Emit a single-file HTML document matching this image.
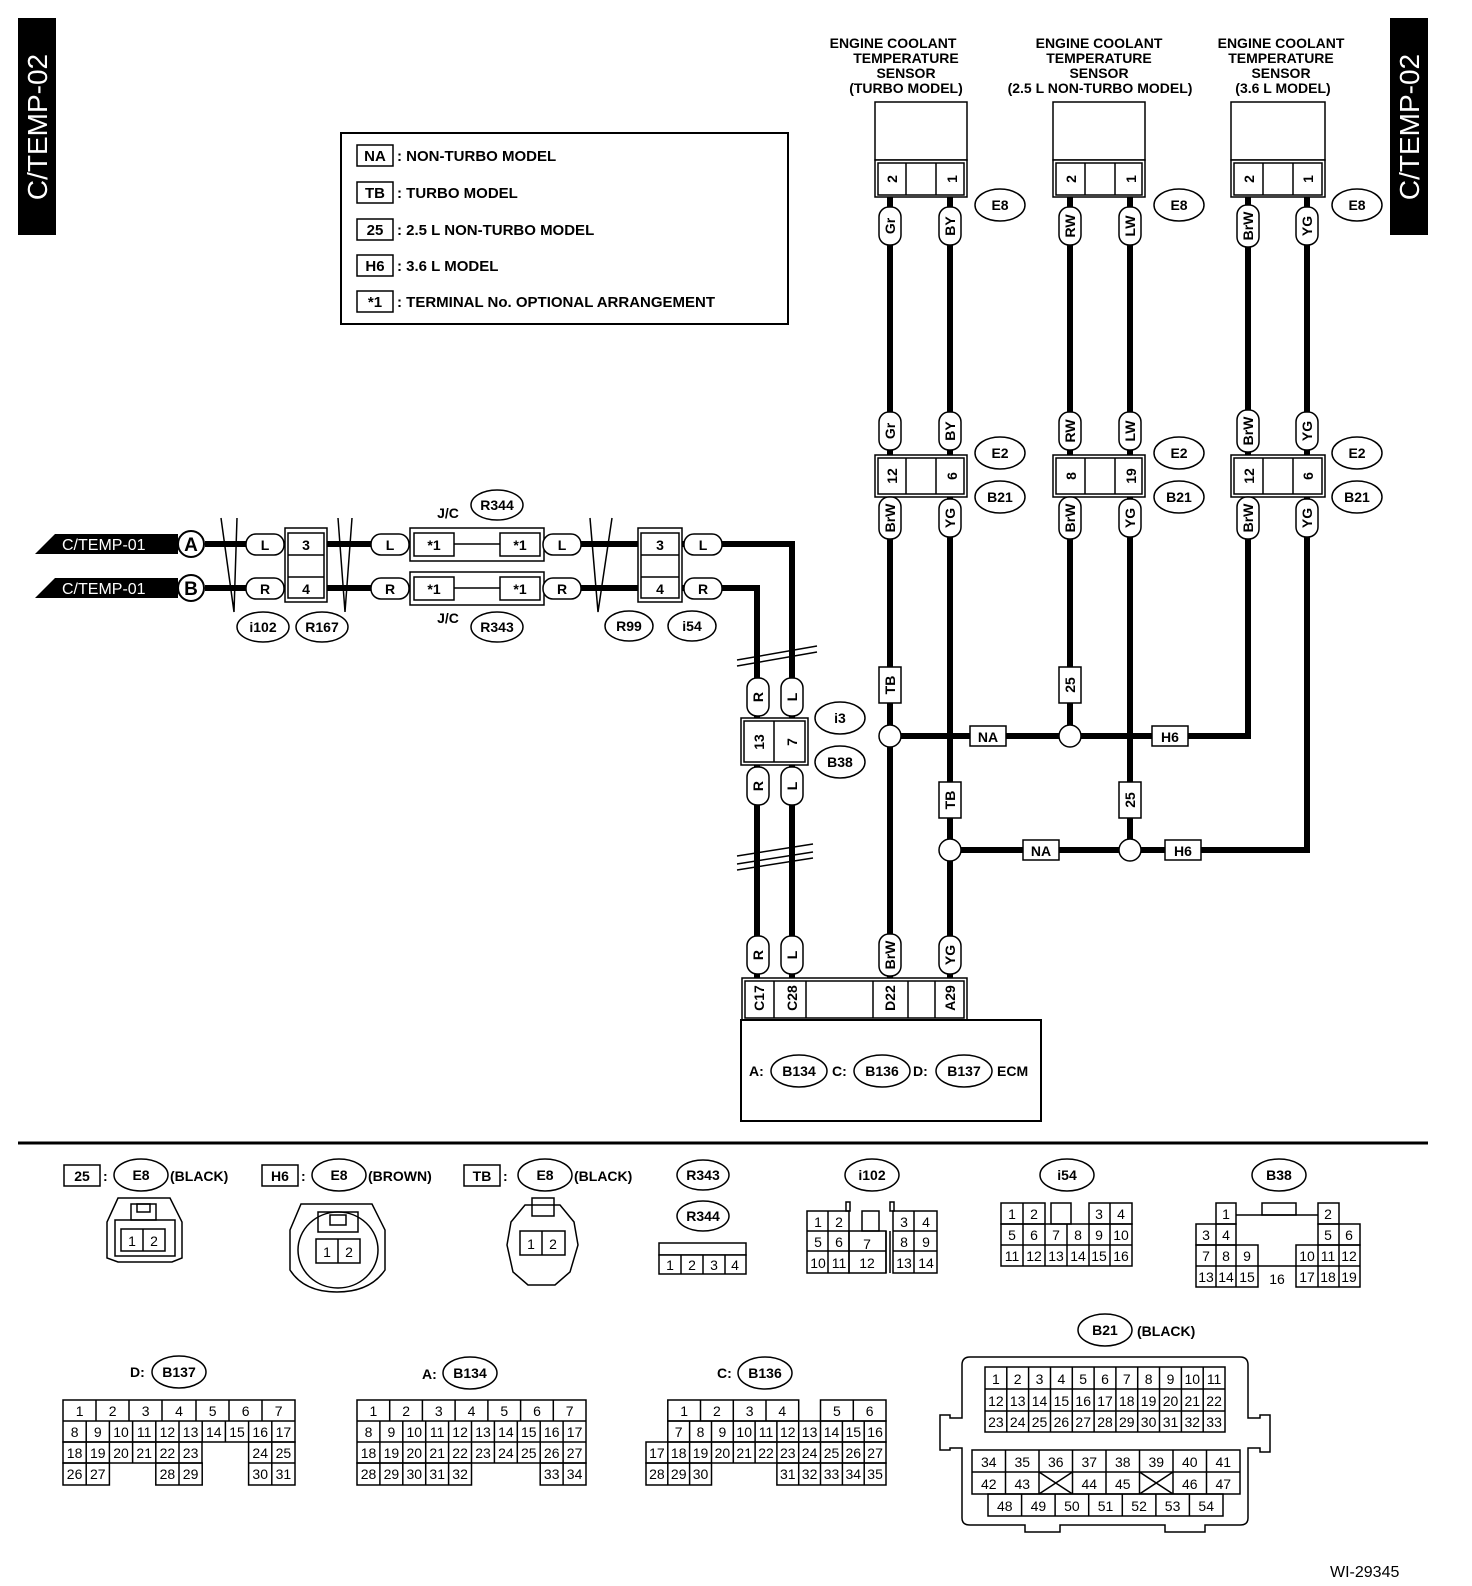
<!DOCTYPE html>
<html><head><meta charset="utf-8"><style>
html,body{margin:0;padding:0;background:#fff}
svg{display:block}
text{font-family:"Liberation Sans",sans-serif;font-weight:bold;fill:#000}
.c{fill:#fff;stroke:#000;stroke-width:1.5}
.t{fill:none;stroke:#000;stroke-width:1.5}
.w{fill:none;stroke:#000;stroke-width:6}
.n{font-weight:normal}
</style></head><body>
<svg width="1472" height="1586" viewBox="0 0 1472 1586" xmlns="http://www.w3.org/2000/svg">
<!-- side labels -->
<rect x="18" y="18" width="38" height="217" fill="#000"/>
<text transform="translate(47,127) rotate(-90)" text-anchor="middle" font-size="28" style="fill:#fff;font-weight:normal">C/TEMP-02</text>
<rect x="1390" y="18" width="38" height="217" fill="#000"/>
<text transform="translate(1419,127) rotate(-90)" text-anchor="middle" font-size="28" style="fill:#fff;font-weight:normal">C/TEMP-02</text>

<!-- legend -->
<rect x="341" y="133" width="447" height="191" class="t" style="stroke-width:2"/>
<g font-size="15">
<rect x="357" y="145" width="36" height="21" class="t"/><text x="375" y="161" text-anchor="middle">NA</text><text x="397" y="161">: NON-TURBO MODEL</text>
<rect x="357" y="182" width="36" height="21" class="t"/><text x="375" y="198" text-anchor="middle">TB</text><text x="397" y="198">: TURBO MODEL</text>
<rect x="357" y="219" width="36" height="21" class="t"/><text x="375" y="235" text-anchor="middle">25</text><text x="397" y="235">: 2.5 L NON-TURBO MODEL</text>
<rect x="357" y="255" width="36" height="21" class="t"/><text x="375" y="271" text-anchor="middle">H6</text><text x="397" y="271">: 3.6 L MODEL</text>
<rect x="357" y="291" width="36" height="21" class="t"/><text x="375" y="307" text-anchor="middle">*1</text><text x="397" y="307">: TERMINAL No. OPTIONAL ARRANGEMENT</text>
</g>

<!-- sensor titles -->
<g font-size="14" text-anchor="middle">
<text x="893" y="48">ENGINE COOLANT</text><text x="906" y="63">TEMPERATURE</text><text x="906" y="78">SENSOR</text><text x="906" y="93">(TURBO MODEL)</text>
<text x="1099" y="48">ENGINE COOLANT</text><text x="1099" y="63">TEMPERATURE</text><text x="1099" y="78">SENSOR</text><text x="1100" y="93">(2.5 L NON-TURBO MODEL)</text>
<text x="1281" y="48">ENGINE COOLANT</text><text x="1281" y="63">TEMPERATURE</text><text x="1281" y="78">SENSOR</text><text x="1283" y="93">(3.6 L MODEL)</text>
</g>

<!-- wires vertical -->
<g class="w">
<path d="M890 197V978"/><path d="M950 197V978"/>
<path d="M1070 197V736"/><path d="M1130 197V850"/>
<path d="M1248 197V736H890"/><path d="M1307 197V850H950"/>
<path d="M205 544H792V978"/><path d="M205 588H757V978"/>
</g>

<!-- sensors -->
<g>
<rect x="875" y="102" width="92" height="58" class="c"/>
<rect x="875" y="160" width="92" height="37" class="c"/><rect x="878" y="163" width="86" height="32" class="c"/>
<path d="M906 163V195M936 163V195" class="t"/>
<text transform="translate(897,179) rotate(-90)" text-anchor="middle" font-size="14">2</text>
<text transform="translate(957,179) rotate(-90)" text-anchor="middle" font-size="14">1</text>
<rect x="1053" y="102" width="92" height="58" class="c"/>
<rect x="1053" y="160" width="92" height="37" class="c"/><rect x="1056" y="163" width="86" height="32" class="c"/>
<path d="M1085 163V195M1115 163V195" class="t"/>
<text transform="translate(1076,179) rotate(-90)" text-anchor="middle" font-size="14">2</text>
<text transform="translate(1136,179) rotate(-90)" text-anchor="middle" font-size="14">1</text>
<rect x="1231" y="102" width="94" height="58" class="c"/>
<rect x="1231" y="160" width="94" height="37" class="c"/><rect x="1234" y="163" width="88" height="32" class="c"/>
<path d="M1263 163V195M1293 163V195" class="t"/>
<text transform="translate(1254,179) rotate(-90)" text-anchor="middle" font-size="14">2</text>
<text transform="translate(1313,179) rotate(-90)" text-anchor="middle" font-size="14">1</text>
</g>

<!-- mid connectors E2/B21 -->
<g>
<rect x="875" y="455" width="92" height="42" class="c"/><rect x="878" y="458" width="86" height="36" class="c"/><path d="M906 458V494M936 458V494" class="t"/>
<text transform="translate(897,476) rotate(-90)" text-anchor="middle" font-size="14">12</text><text transform="translate(957,476) rotate(-90)" text-anchor="middle" font-size="14">6</text>
<rect x="1053" y="455" width="92" height="42" class="c"/><rect x="1056" y="458" width="86" height="36" class="c"/><path d="M1085 458V494M1115 458V494" class="t"/>
<text transform="translate(1076,476) rotate(-90)" text-anchor="middle" font-size="14">8</text><text transform="translate(1136,476) rotate(-90)" text-anchor="middle" font-size="14">19</text>
<rect x="1231" y="455" width="94" height="42" class="c"/><rect x="1234" y="458" width="88" height="36" class="c"/><path d="M1263 458V494M1293 458V494" class="t"/>
<text transform="translate(1254,476) rotate(-90)" text-anchor="middle" font-size="14">12</text><text transform="translate(1313,476) rotate(-90)" text-anchor="middle" font-size="14">6</text>
</g>

<!-- vertical pills -->
<g font-size="14" text-anchor="middle">
<rect x="879" y="207" width="22" height="38" rx="10" class="c"/><text transform="translate(895,226) rotate(-90)">Gr</text>
<rect x="939" y="207" width="22" height="38" rx="10" class="c"/><text transform="translate(955,226) rotate(-90)">BY</text>
<rect x="1059" y="207" width="22" height="38" rx="10" class="c"/><text transform="translate(1075,226) rotate(-90)">RW</text>
<rect x="1119" y="207" width="22" height="38" rx="10" class="c"/><text transform="translate(1135,226) rotate(-90)">LW</text>
<rect x="1237" y="205" width="22" height="42" rx="10" class="c"/><text transform="translate(1253,226) rotate(-90)">BrW</text>
<rect x="1296" y="207" width="22" height="38" rx="10" class="c"/><text transform="translate(1312,226) rotate(-90)">YG</text>

<rect x="879" y="412" width="22" height="38" rx="10" class="c"/><text transform="translate(895,431) rotate(-90)">Gr</text>
<rect x="939" y="412" width="22" height="38" rx="10" class="c"/><text transform="translate(955,431) rotate(-90)">BY</text>
<rect x="1059" y="412" width="22" height="38" rx="10" class="c"/><text transform="translate(1075,431) rotate(-90)">RW</text>
<rect x="1119" y="412" width="22" height="38" rx="10" class="c"/><text transform="translate(1135,431) rotate(-90)">LW</text>
<rect x="1237" y="410" width="22" height="42" rx="10" class="c"/><text transform="translate(1253,431) rotate(-90)">BrW</text>
<rect x="1296" y="412" width="22" height="38" rx="10" class="c"/><text transform="translate(1312,431) rotate(-90)">YG</text>

<rect x="879" y="497" width="22" height="42" rx="10" class="c"/><text transform="translate(895,518) rotate(-90)">BrW</text>
<rect x="939" y="499" width="22" height="38" rx="10" class="c"/><text transform="translate(955,518) rotate(-90)">YG</text>
<rect x="1059" y="497" width="22" height="42" rx="10" class="c"/><text transform="translate(1075,518) rotate(-90)">BrW</text>
<rect x="1119" y="499" width="22" height="38" rx="10" class="c"/><text transform="translate(1135,518) rotate(-90)">YG</text>
<rect x="1237" y="497" width="22" height="42" rx="10" class="c"/><text transform="translate(1253,518) rotate(-90)">BrW</text>
<rect x="1296" y="499" width="22" height="38" rx="10" class="c"/><text transform="translate(1312,518) rotate(-90)">YG</text>

<rect x="879" y="667" width="22" height="36" class="c"/><text transform="translate(895,685) rotate(-90)">TB</text>
<rect x="1059" y="667" width="22" height="36" class="c"/><text transform="translate(1075,685) rotate(-90)">25</text>
<rect x="939" y="782" width="22" height="36" class="c"/><text transform="translate(955,800) rotate(-90)">TB</text>
<rect x="1119" y="782" width="22" height="36" class="c"/><text transform="translate(1135,800) rotate(-90)">25</text>

<rect x="879" y="934" width="22" height="42" rx="10" class="c"/><text transform="translate(895,955) rotate(-90)">BrW</text>
<rect x="939" y="936" width="22" height="38" rx="10" class="c"/><text transform="translate(955,955) rotate(-90)">YG</text>
<rect x="747" y="936" width="22" height="38" rx="10" class="c"/><text transform="translate(763,955) rotate(-90)">R</text>
<rect x="781" y="936" width="22" height="38" rx="10" class="c"/><text transform="translate(797,955) rotate(-90)">L</text>

<rect x="747" y="678" width="22" height="38" rx="10" class="c"/><text transform="translate(763,697) rotate(-90)">R</text>
<rect x="781" y="678" width="22" height="38" rx="10" class="c"/><text transform="translate(797,697) rotate(-90)">L</text>
<rect x="747" y="767" width="22" height="38" rx="10" class="c"/><text transform="translate(763,786) rotate(-90)">R</text>
<rect x="781" y="767" width="22" height="38" rx="10" class="c"/><text transform="translate(797,786) rotate(-90)">L</text>
</g>

<!-- i3/B38 connector -->
<rect x="741" y="718" width="67" height="47" class="c"/><rect x="744" y="721" width="61" height="41" class="c"/><path d="M774 721V762" class="t"/>
<text transform="translate(764,742) rotate(-90)" text-anchor="middle" font-size="14">13</text>
<text transform="translate(797,742) rotate(-90)" text-anchor="middle" font-size="14">7</text>

<!-- nodes & NA/H6 -->
<g>
<circle cx="890" cy="736" r="11" class="c"/><circle cx="1070" cy="736" r="11" class="c"/>
<circle cx="950" cy="850" r="11" class="c"/><circle cx="1130" cy="850" r="11" class="c"/>
<rect x="970" y="726" width="36" height="20" class="c"/><rect x="1152" y="726" width="36" height="20" class="c"/>
<rect x="1023" y="840" width="36" height="20" class="c"/><rect x="1165" y="840" width="36" height="20" class="c"/>
</g>
<g font-size="14" text-anchor="middle">
<text x="988" y="742">NA</text><text x="1170" y="742">H6</text><text x="1041" y="856">NA</text><text x="1183" y="856">H6</text>
</g>

<!-- ellipses right -->
<g font-size="14" text-anchor="middle">
<ellipse cx="1000" cy="205" rx="25" ry="16" class="c"/><text x="1000" y="210">E8</text>
<ellipse cx="1179" cy="205" rx="25" ry="16" class="c"/><text x="1179" y="210">E8</text>
<ellipse cx="1357" cy="205" rx="25" ry="16" class="c"/><text x="1357" y="210">E8</text>
<ellipse cx="1000" cy="453" rx="25" ry="16" class="c"/><text x="1000" y="458">E2</text>
<ellipse cx="1179" cy="453" rx="25" ry="16" class="c"/><text x="1179" y="458">E2</text>
<ellipse cx="1357" cy="453" rx="25" ry="16" class="c"/><text x="1357" y="458">E2</text>
<ellipse cx="1000" cy="497" rx="25" ry="16" class="c"/><text x="1000" y="502">B21</text>
<ellipse cx="1179" cy="497" rx="25" ry="16" class="c"/><text x="1179" y="502">B21</text>
<ellipse cx="1357" cy="497" rx="25" ry="16" class="c"/><text x="1357" y="502">B21</text>
<ellipse cx="840" cy="718" rx="25" ry="16" class="c"/><text x="840" y="723">i3</text>
<ellipse cx="840" cy="762" rx="25" ry="16" class="c"/><text x="840" y="767">B38</text>
</g>

<!-- break marks -->
<g class="t" style="stroke-width:1.5">
<path d="M737 660L817 646M737 666L817 652"/>
<path d="M737 856L813 844M737 864L813 852M737 870L813 858"/>
<path d="M221 518L234 612L237 518"/>
<path d="M338 518L345 612L352 518"/>
<path d="M590 518L598 612L612 518"/>
</g>

<!-- left flags -->
<polygon points="55,534 178,534 178,554 35,554" fill="#000"/>
<polygon points="55,578 178,578 178,598 35,598" fill="#000"/>
<text x="62" y="550" font-size="16" style="fill:#fff;font-weight:normal">C/TEMP-01</text>
<text x="62" y="594" font-size="16" style="fill:#fff;font-weight:normal">C/TEMP-01</text>
<circle cx="191" cy="544" r="13" class="c" style="stroke-width:2"/><text x="191" y="551" font-size="19" text-anchor="middle">A</text>
<circle cx="191" cy="588" r="13" class="c" style="stroke-width:2"/><text x="191" y="595" font-size="19" text-anchor="middle">B</text>

<!-- left connectors -->
<g>
<rect x="285" y="528" width="42" height="74" class="c"/><rect x="288" y="533" width="36" height="65" class="c"/><path d="M288 555H324M288 577H324" class="t"/>
<rect x="638" y="528" width="44" height="74" class="c"/><rect x="641" y="533" width="38" height="65" class="c"/><path d="M641 555H679M641 577H679" class="t"/>
<rect x="410" y="528" width="134" height="33" class="c"/><rect x="414" y="533" width="40" height="23" class="c"/><rect x="500" y="533" width="40" height="23" class="c"/><path d="M454 544H500" class="t"/>
<rect x="410" y="572" width="134" height="33" class="c"/><rect x="414" y="577" width="40" height="23" class="c"/><rect x="500" y="577" width="40" height="23" class="c"/><path d="M454 588H500" class="t"/>
<rect x="246" y="534" width="38" height="21" rx="10" class="c"/><rect x="246" y="578" width="38" height="21" rx="10" class="c"/>
<rect x="371" y="534" width="38" height="21" rx="10" class="c"/><rect x="371" y="578" width="38" height="21" rx="10" class="c"/>
<rect x="543" y="534" width="38" height="21" rx="10" class="c"/><rect x="543" y="578" width="38" height="21" rx="10" class="c"/>
<rect x="684" y="534" width="38" height="21" rx="10" class="c"/><rect x="684" y="578" width="38" height="21" rx="10" class="c"/>
</g>
<g font-size="14" text-anchor="middle">
<text x="265" y="550">L</text><text x="265" y="594">R</text>
<text x="306" y="550">3</text><text x="306" y="594">4</text>
<text x="390" y="550">L</text><text x="390" y="594">R</text>
<text x="434" y="550">*1</text><text x="434" y="594">*1</text>
<text x="520" y="550">*1</text><text x="520" y="594">*1</text>
<text x="562" y="550">L</text><text x="562" y="594">R</text>
<text x="660" y="550">3</text><text x="660" y="594">4</text>
<text x="703" y="550">L</text><text x="703" y="594">R</text>
<text x="448" y="518">J/C</text><text x="448" y="623">J/C</text>
<ellipse cx="263" cy="627" rx="26" ry="15" class="c"/><text x="263" y="632">i102</text>
<ellipse cx="322" cy="627" rx="26" ry="15" class="c"/><text x="322" y="632">R167</text>
<ellipse cx="497" cy="505" rx="26" ry="15" class="c"/><text x="497" y="510">R344</text>
<ellipse cx="497" cy="627" rx="26" ry="15" class="c"/><text x="497" y="632">R343</text>
<ellipse cx="629" cy="626" rx="24" ry="15" class="c"/><text x="629" y="631">R99</text>
<ellipse cx="692" cy="626" rx="24" ry="15" class="c"/><text x="692" y="631">i54</text>
</g>

<!-- ECM -->
<rect x="742" y="978" width="225" height="42" class="c"/><rect x="745" y="981" width="219" height="37" class="c"/>
<path d="M774 981V1018M806 981V1018M873 981V1018M908 981V1018M935 981V1018" class="t"/>
<g font-size="14" text-anchor="middle">
<text transform="translate(764,998) rotate(-90)">C17</text><text transform="translate(797,998) rotate(-90)">C28</text>
<text transform="translate(895,998) rotate(-90)">D22</text><text transform="translate(955,998) rotate(-90)">A29</text>
</g>
<rect x="741" y="1020" width="300" height="101" class="t" style="stroke-width:2"/>
<g font-size="14">
<text x="749" y="1076">A:</text><ellipse cx="799" cy="1071" rx="28" ry="16" class="c"/><text x="799" y="1076" text-anchor="middle">B134</text>
<text x="832" y="1076">C:</text><ellipse cx="882" cy="1071" rx="28" ry="16" class="c"/><text x="882" y="1076" text-anchor="middle">B136</text>
<text x="913" y="1076">D:</text><ellipse cx="964" cy="1071" rx="28" ry="16" class="c"/><text x="964" y="1076" text-anchor="middle">B137</text>
<text x="997" y="1076">ECM</text>
</g>

<!-- separator -->
<path d="M18 1143H1428" stroke="#000" stroke-width="3"/>

<!-- bottom headers -->
<g font-size="14">
<rect x="64" y="1165" width="36" height="21" class="t"/><text x="82" y="1181" text-anchor="middle">25</text><text x="103" y="1181">:</text>
<ellipse cx="141" cy="1175" rx="27" ry="16" class="c"/><text x="141" y="1180" text-anchor="middle">E8</text><text x="170" y="1181">(BLACK)</text>
<rect x="262" y="1165" width="36" height="21" class="t"/><text x="280" y="1181" text-anchor="middle">H6</text><text x="301" y="1181">:</text>
<ellipse cx="339" cy="1175" rx="27" ry="16" class="c"/><text x="339" y="1180" text-anchor="middle">E8</text><text x="368" y="1181">(BROWN)</text>
<rect x="464" y="1165" width="36" height="21" class="t"/><text x="482" y="1181" text-anchor="middle">TB</text><text x="503" y="1181">:</text>
<ellipse cx="545" cy="1175" rx="27" ry="16" class="c"/><text x="545" y="1180" text-anchor="middle">E8</text><text x="574" y="1181">(BLACK)</text>
<ellipse cx="703" cy="1175" rx="26" ry="15" class="c"/><text x="703" y="1180" text-anchor="middle">R343</text>
<ellipse cx="703" cy="1216" rx="26" ry="15" class="c"/><text x="703" y="1221" text-anchor="middle">R344</text>
<ellipse cx="872" cy="1175" rx="27" ry="16" class="c"/><text x="872" y="1180" text-anchor="middle">i102</text>
<ellipse cx="1067" cy="1175" rx="27" ry="16" class="c"/><text x="1067" y="1180" text-anchor="middle">i54</text>
<ellipse cx="1279" cy="1175" rx="27" ry="16" class="c"/><text x="1279" y="1180" text-anchor="middle">B38</text>
<text x="130" y="1377">D:</text><ellipse cx="179" cy="1372" rx="27" ry="16" class="c"/><text x="179" y="1377" text-anchor="middle">B137</text>
<text x="422" y="1379">A:</text><ellipse cx="470" cy="1373" rx="27" ry="16" class="c"/><text x="470" y="1378" text-anchor="middle">B134</text>
<text x="717" y="1378">C:</text><ellipse cx="765" cy="1373" rx="27" ry="16" class="c"/><text x="765" y="1378" text-anchor="middle">B136</text>
<ellipse cx="1105" cy="1330" rx="27" ry="16" class="c"/><text x="1105" y="1335" text-anchor="middle">B21</text><text x="1137" y="1336">(BLACK)</text>
</g>

<!-- sensor connector drawings -->
<g class="t">
<path d="M118 1198H170L182 1222V1258L172 1262H118L107 1258V1222Z"/>
<rect x="115" y="1220" width="60" height="36"/>
<rect x="131" y="1204" width="25" height="16"/><rect x="137" y="1204" width="13" height="8"/>
<path d="M301 1204H372L385 1230V1270Q370 1292 337 1292Q304 1292 290 1270V1230Z"/>
<ellipse cx="338" cy="1250" rx="40" ry="38"/>
<rect x="318" y="1212" width="40" height="20"/><rect x="330" y="1215" width="16" height="10"/>
<path d="M525 1205H560L574 1222L578 1245L570 1272L555 1285H528L513 1272L507 1245L511 1222Z"/>
<rect x="532" y="1198" width="22" height="18"/>
<rect x="659" y="1243" width="87" height="12"/>
</g>
<g class="c">
<rect x="121" y="1229" width="44" height="22"/><rect x="316" y="1239" width="44" height="24"/><rect x="520" y="1231" width="45" height="24"/>
<rect x="659" y="1255" width="87" height="19"/>
</g>
<path d="M143 1229V1251M338 1239V1263M542 1231V1255M681 1255V1274M703 1255V1274M725 1255V1274" class="t"/>
<g font-size="14" text-anchor="middle" class="n">
<text x="132" y="1246" class="n">1</text><text x="154" y="1246" class="n">2</text>
<text x="327" y="1257" class="n">1</text><text x="349" y="1257" class="n">2</text>
<text x="531" y="1249" class="n">1</text><text x="553" y="1249" class="n">2</text>
<text x="670" y="1270" class="n">1</text><text x="692" y="1270" class="n">2</text><text x="714" y="1270" class="n">3</text><text x="735" y="1270" class="n">4</text>
</g>

<!-- i102 -->
<g class="t">
<rect x="807" y="1211" width="42" height="62"/><path d="M807 1231H849M807 1251H849M828 1211V1273"/>
<rect x="849" y="1231" width="37" height="42"/><path d="M849 1251H886"/>
<rect x="862" y="1211" width="17" height="20"/>
<rect x="893" y="1211" width="44" height="62"/><path d="M893 1231H937M893 1251H937M914 1211V1273"/>
<path d="M886 1231V1273M890 1231V1273"/>
<rect x="846" y="1202" width="4" height="9"/><rect x="890" y="1202" width="4" height="9"/>
</g>
<g font-size="14" text-anchor="middle">
<text x="818" y="1227" class="n">1</text><text x="839" y="1227" class="n">2</text><text x="904" y="1227" class="n">3</text><text x="926" y="1227" class="n">4</text>
<text x="818" y="1247" class="n">5</text><text x="839" y="1247" class="n">6</text><text x="867" y="1249" class="n">7</text><text x="904" y="1247" class="n">8</text><text x="926" y="1247" class="n">9</text>
<text x="818" y="1268" class="n">10</text><text x="839" y="1268" class="n">11</text><text x="867" y="1268" class="n">12</text><text x="904" y="1268" class="n">13</text><text x="926" y="1268" class="n">14</text>
</g>

<!-- i54 -->
<g class="t">
<rect x="1001" y="1224" width="131" height="42"/><path d="M1001 1245H1132"/>
<rect x="1001" y="1203" width="44" height="21"/><rect x="1089" y="1203" width="43" height="21"/><rect x="1051" y="1203" width="20" height="21"/>
<path d="M1023 1203V1266M1045 1224V1266M1067 1224V1266M1089 1224V1266M1110 1203V1266"/>
</g>
<g font-size="14" text-anchor="middle">
<text x="1012" y="1219" class="n">1</text><text x="1034" y="1219" class="n">2</text><text x="1099" y="1219" class="n">3</text><text x="1121" y="1219" class="n">4</text>
<text x="1012" y="1240" class="n">5</text><text x="1034" y="1240" class="n">6</text><text x="1056" y="1240" class="n">7</text><text x="1078" y="1240" class="n">8</text><text x="1099" y="1240" class="n">9</text><text x="1121" y="1240" class="n">10</text>
<text x="1012" y="1261" class="n">11</text><text x="1034" y="1261" class="n">12</text><text x="1056" y="1261" class="n">13</text><text x="1078" y="1261" class="n">14</text><text x="1099" y="1261" class="n">15</text><text x="1121" y="1261" class="n">16</text>
</g>

<!-- B38 -->
<g class="t">
<rect x="1216" y="1203" width="20" height="21"/><rect x="1318" y="1203" width="21" height="21"/>
<path d="M1236 1215H1318"/><rect x="1262" y="1203" width="34" height="12"/>
<rect x="1196" y="1224" width="40" height="21"/><path d="M1216 1224V1287"/>
<rect x="1318" y="1224" width="42" height="21"/><path d="M1339 1224V1287"/>
<rect x="1196" y="1245" width="62" height="42"/><path d="M1196 1266H1296M1236 1245V1287"/>
<rect x="1296" y="1245" width="64" height="42"/><path d="M1296 1266H1360M1318 1245V1287"/>
</g>
<g font-size="14" text-anchor="middle">
<text x="1226" y="1219" class="n">1</text><text x="1328" y="1219" class="n">2</text>
<text x="1206" y="1240" class="n">3</text><text x="1226" y="1240" class="n">4</text><text x="1328" y="1240" class="n">5</text><text x="1349" y="1240" class="n">6</text>
<text x="1206" y="1261" class="n">7</text><text x="1226" y="1261" class="n">8</text><text x="1247" y="1261" class="n">9</text><text x="1307" y="1261" class="n">10</text><text x="1328" y="1261" class="n">11</text><text x="1349" y="1261" class="n">12</text>
<text x="1206" y="1282" class="n">13</text><text x="1226" y="1282" class="n">14</text><text x="1247" y="1282" class="n">15</text><text x="1277" y="1284" class="n">16</text><text x="1307" y="1282" class="n">17</text><text x="1328" y="1282" class="n">18</text><text x="1349" y="1282" class="n">19</text>
</g>

<!-- B137 -->
<g class="t">
<rect x="63" y="1400" width="232" height="42"/><path d="M63 1421H295"/>
<path d="M96 1400V1421M129 1400V1421M162 1400V1421M196 1400V1421M229 1400V1421M262 1400V1421"/>
<rect x="63" y="1442" width="139" height="21"/><rect x="248.6" y="1442" width="46.4" height="43"/>
<rect x="63" y="1463" width="46.4" height="22"/><rect x="155.8" y="1463" width="46.4" height="22"/>
<path d="M86.2 1421V1485M109.4 1421V1463M132.6 1421V1463M155.8 1421V1463M179 1421V1485M202.2 1421V1442M225.4 1421V1442M248.6 1421V1442M271.8 1421V1485M248.6 1463H295"/>
</g>
<g font-size="14" text-anchor="middle">
<text x="79.6" y="1416" class="n">1</text><text x="112.6" y="1416" class="n">2</text><text x="145.6" y="1416" class="n">3</text><text x="179" y="1416" class="n">4</text><text x="212.6" y="1416" class="n">5</text><text x="245.6" y="1416" class="n">6</text><text x="278.6" y="1416" class="n">7</text>
<text x="74.6" y="1437" class="n">8</text><text x="97.8" y="1437" class="n">9</text><text x="121" y="1437" class="n">10</text><text x="144.2" y="1437" class="n">11</text><text x="167.4" y="1437" class="n">12</text><text x="190.6" y="1437" class="n">13</text><text x="213.8" y="1437" class="n">14</text><text x="237" y="1437" class="n">15</text><text x="260.2" y="1437" class="n">16</text><text x="283.4" y="1437" class="n">17</text>
<text x="74.6" y="1458" class="n">18</text><text x="97.8" y="1458" class="n">19</text><text x="121" y="1458" class="n">20</text><text x="144.2" y="1458" class="n">21</text><text x="167.4" y="1458" class="n">22</text><text x="190.6" y="1458" class="n">23</text><text x="260.2" y="1458" class="n">24</text><text x="283.4" y="1458" class="n">25</text>
<text x="74.6" y="1479" class="n">26</text><text x="97.8" y="1479" class="n">27</text><text x="167.4" y="1479" class="n">28</text><text x="190.6" y="1479" class="n">29</text><text x="260.2" y="1479" class="n">30</text><text x="283.4" y="1479" class="n">31</text>
</g>

<!-- B134 -->
<g class="t">
<rect x="357" y="1400" width="229" height="63"/><path d="M357 1421H586M357 1442H586"/>
<path d="M389.7 1400V1421M422.4 1400V1421M455.1 1400V1421M487.9 1400V1421M520.6 1400V1421M553.3 1400V1421"/>
<path d="M379.9 1421V1485M402.8 1421V1485M425.7 1421V1485M448.6 1421V1485M471.5 1421V1463M494.4 1421V1463M517.3 1421V1463M540.2 1421V1463M563.1 1421V1485"/>
<rect x="357" y="1463" width="114.5" height="22"/><rect x="540.2" y="1463" width="45.8" height="22"/>
</g>
<g font-size="14" text-anchor="middle">
<text x="373.4" y="1416" class="n">1</text><text x="406.1" y="1416" class="n">2</text><text x="438.8" y="1416" class="n">3</text><text x="471.5" y="1416" class="n">4</text><text x="504.3" y="1416" class="n">5</text><text x="537" y="1416" class="n">6</text><text x="569.7" y="1416" class="n">7</text>
<text x="368.5" y="1437" class="n">8</text><text x="391.4" y="1437" class="n">9</text><text x="414.3" y="1437" class="n">10</text><text x="437.2" y="1437" class="n">11</text><text x="460.1" y="1437" class="n">12</text><text x="483" y="1437" class="n">13</text><text x="505.9" y="1437" class="n">14</text><text x="528.8" y="1437" class="n">15</text><text x="551.7" y="1437" class="n">16</text><text x="574.6" y="1437" class="n">17</text>
<text x="368.5" y="1458" class="n">18</text><text x="391.4" y="1458" class="n">19</text><text x="414.3" y="1458" class="n">20</text><text x="437.2" y="1458" class="n">21</text><text x="460.1" y="1458" class="n">22</text><text x="483" y="1458" class="n">23</text><text x="505.9" y="1458" class="n">24</text><text x="528.8" y="1458" class="n">25</text><text x="551.7" y="1458" class="n">26</text><text x="574.6" y="1458" class="n">27</text>
<text x="368.5" y="1479" class="n">28</text><text x="391.4" y="1479" class="n">29</text><text x="414.3" y="1479" class="n">30</text><text x="437.2" y="1479" class="n">31</text><text x="460.1" y="1479" class="n">32</text><text x="551.7" y="1479" class="n">33</text><text x="574.6" y="1479" class="n">34</text>
</g>

<!-- B136 -->
<g class="t">
<rect x="667.8" y="1400" width="130.9" height="21"/><rect x="820.5" y="1400" width="65.5" height="21"/>
<path d="M700.5 1400V1421M733.3 1400V1421M766 1400V1421M853.3 1400V1421"/>
<rect x="667.8" y="1421" width="218.2" height="21"/><rect x="646" y="1442" width="240" height="21"/>
<rect x="646" y="1463" width="65.5" height="22"/><rect x="776.9" y="1463" width="109.1" height="22"/>
<path d="M689.6 1421V1485M711.5 1421V1463M733.3 1421V1463M755.1 1421V1463M776.9 1421V1463M798.7 1421V1485M820.5 1421V1485M842.4 1421V1485M864.2 1421V1485M667.8 1442V1485"/>
</g>
<g font-size="14" text-anchor="middle">
<text x="684.2" y="1416" class="n">1</text><text x="716.9" y="1416" class="n">2</text><text x="749.6" y="1416" class="n">3</text><text x="782.3" y="1416" class="n">4</text><text x="836.9" y="1416" class="n">5</text><text x="869.6" y="1416" class="n">6</text>
<text x="678.7" y="1437" class="n">7</text><text x="700.5" y="1437" class="n">8</text><text x="722.4" y="1437" class="n">9</text><text x="744.2" y="1437" class="n">10</text><text x="766" y="1437" class="n">11</text><text x="787.8" y="1437" class="n">12</text><text x="809.6" y="1437" class="n">13</text><text x="831.5" y="1437" class="n">14</text><text x="853.3" y="1437" class="n">15</text><text x="875.1" y="1437" class="n">16</text>
<text x="656.9" y="1458" class="n">17</text><text x="678.7" y="1458" class="n">18</text><text x="700.5" y="1458" class="n">19</text><text x="722.4" y="1458" class="n">20</text><text x="744.2" y="1458" class="n">21</text><text x="766" y="1458" class="n">22</text><text x="787.8" y="1458" class="n">23</text><text x="809.6" y="1458" class="n">24</text><text x="831.5" y="1458" class="n">25</text><text x="853.3" y="1458" class="n">26</text><text x="875.1" y="1458" class="n">27</text>
<text x="656.9" y="1479" class="n">28</text><text x="678.7" y="1479" class="n">29</text><text x="700.5" y="1479" class="n">30</text><text x="787.8" y="1479" class="n">31</text><text x="809.6" y="1479" class="n">32</text><text x="831.5" y="1479" class="n">33</text><text x="853.3" y="1479" class="n">34</text><text x="875.1" y="1479" class="n">35</text>
</g>

<!-- B21 -->
<g class="t">
<path d="M970 1357H1240Q1248 1357 1248 1365V1418H1260V1415H1270V1452H1260V1448H1248V1518Q1248 1525 1240 1525H1205V1532H1165V1525H1060V1532H1025V1525H970Q962 1525 962 1518V1448H950V1450H940V1415H950V1418H962V1365Q962 1357 970 1357Z"/>
<rect x="985" y="1367" width="240" height="65"/><path d="M985 1389H1225M985 1411H1225"/>
<path d="M1006.8 1367V1432M1028.6 1367V1432M1050.5 1367V1432M1072.3 1367V1432M1094.1 1367V1432M1115.9 1367V1432M1137.7 1367V1432M1159.5 1367V1432M1181.4 1367V1432M1203.2 1367V1432"/>
<rect x="972" y="1450" width="268" height="44"/><path d="M972 1472H1240"/>
<path d="M1005.5 1450V1494M1039 1450V1494M1072.5 1450V1494M1106 1450V1494M1139.5 1450V1494M1173 1450V1494M1206.5 1450V1494"/>
<path d="M1039 1472L1072.5 1494M1072.5 1472L1039 1494M1139.5 1472L1173 1494M1173 1472L1139.5 1494"/>
<rect x="988" y="1494" width="235" height="22"/>
<path d="M1021.6 1494V1516M1055.1 1494V1516M1088.7 1494V1516M1122.3 1494V1516M1155.9 1494V1516M1189.4 1494V1516"/>
</g>
<g font-size="14" text-anchor="middle">
<text x="995.9" y="1384" class="n">1</text><text x="1017.7" y="1384" class="n">2</text><text x="1039.5" y="1384" class="n">3</text><text x="1061.4" y="1384" class="n">4</text><text x="1083.2" y="1384" class="n">5</text><text x="1105" y="1384" class="n">6</text><text x="1126.8" y="1384" class="n">7</text><text x="1148.6" y="1384" class="n">8</text><text x="1170.5" y="1384" class="n">9</text><text x="1192.3" y="1384" class="n">10</text><text x="1214.1" y="1384" class="n">11</text>
<text x="995.9" y="1406" class="n">12</text><text x="1017.7" y="1406" class="n">13</text><text x="1039.5" y="1406" class="n">14</text><text x="1061.4" y="1406" class="n">15</text><text x="1083.2" y="1406" class="n">16</text><text x="1105" y="1406" class="n">17</text><text x="1126.8" y="1406" class="n">18</text><text x="1148.6" y="1406" class="n">19</text><text x="1170.5" y="1406" class="n">20</text><text x="1192.3" y="1406" class="n">21</text><text x="1214.1" y="1406" class="n">22</text>
<text x="995.9" y="1427" class="n">23</text><text x="1017.7" y="1427" class="n">24</text><text x="1039.5" y="1427" class="n">25</text><text x="1061.4" y="1427" class="n">26</text><text x="1083.2" y="1427" class="n">27</text><text x="1105" y="1427" class="n">28</text><text x="1126.8" y="1427" class="n">29</text><text x="1148.6" y="1427" class="n">30</text><text x="1170.5" y="1427" class="n">31</text><text x="1192.3" y="1427" class="n">32</text><text x="1214.1" y="1427" class="n">33</text>
<text x="988.75" y="1467" class="n">34</text><text x="1022.25" y="1467" class="n">35</text><text x="1055.75" y="1467" class="n">36</text><text x="1089.25" y="1467" class="n">37</text><text x="1122.75" y="1467" class="n">38</text><text x="1156.25" y="1467" class="n">39</text><text x="1189.75" y="1467" class="n">40</text><text x="1223.25" y="1467" class="n">41</text>
<text x="988.75" y="1489" class="n">42</text><text x="1022.25" y="1489" class="n">43</text><text x="1089.25" y="1489" class="n">44</text><text x="1122.75" y="1489" class="n">45</text><text x="1189.75" y="1489" class="n">46</text><text x="1223.25" y="1489" class="n">47</text>
<text x="1004.8" y="1511" class="n">48</text><text x="1038.4" y="1511" class="n">49</text><text x="1071.9" y="1511" class="n">50</text><text x="1105.5" y="1511" class="n">51</text><text x="1139.1" y="1511" class="n">52</text><text x="1172.6" y="1511" class="n">53</text><text x="1206.2" y="1511" class="n">54</text>
</g>

<text x="1330" y="1577" font-size="16" class="n">WI-29345</text>
</svg>
</body></html>
